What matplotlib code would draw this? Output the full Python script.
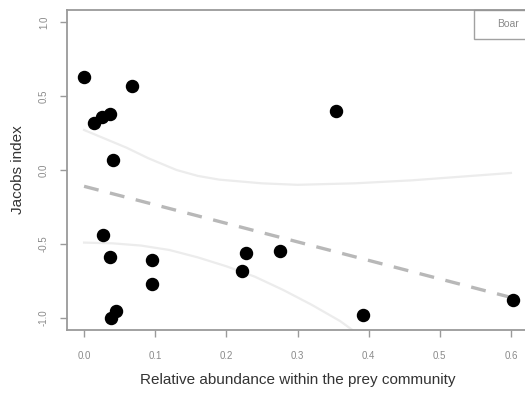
import matplotlib.pyplot as plt

# Jacobs index vs relative abundance (boar)
abund = [0.000, 0.014, 0.025, 0.037, 0.040, 0.067, 0.354, 0.027, 0.037, 0.095,
         0.095, 0.045, 0.038, 0.228, 0.222, 0.276, 0.392, 0.603]
jacobs = [0.63, 0.32, 0.36, 0.38, 0.07, 0.57, 0.40, -0.44, -0.59, -0.61,
          -0.77, -0.95, -1.00, -0.56, -0.68, -0.55, -0.98, -0.88]

# fitted line
fit_x = [0.0, 0.6]
fit_y = [-0.11, -0.86]

# confidence band
upper_x = [0.0, 0.03, 0.06, 0.09, 0.13, 0.16, 0.19, 0.25, 0.30, 0.38, 0.46, 0.53, 0.60]
upper_y = [0.27, 0.21, 0.15, 0.08, 0.0, -0.04, -0.065, -0.09, -0.10, -0.09, -0.07, -0.045, -0.02]
lower_x = [0.0, 0.04, 0.08, 0.12, 0.16, 0.20, 0.24, 0.28, 0.32, 0.36, 0.38]
lower_y = [-0.49, -0.495, -0.51, -0.54, -0.59, -0.65, -0.72, -0.81, -0.91, -1.02, -1.09]

plt.rcParams['font.family'] = ['Liberation Sans', 'DejaVu Sans']

fig = plt.figure(figsize=(5.25, 3.94), dpi=100)
ax = fig.add_axes([67 / 525, 64 / 394, 461 / 525, 320 / 394])

ax.plot(upper_x, upper_y, color='#ececec', linewidth=1.6, zorder=1)
ax.plot(lower_x, lower_y, color='#ececec', linewidth=1.6, zorder=1)
ax.plot(fit_x, fit_y, color='#b8b8b8', linewidth=2.4, dashes=(4.5, 3.5), zorder=2)
ax.scatter(abund, jacobs, s=75, color='black', zorder=3)

ax.set_xlim(-0.024, 0.624)
ax.set_ylim(-1.08, 1.08)
ax.set_xticks([0.0, 0.1, 0.2, 0.3, 0.4, 0.5, 0.6])
ax.set_xticklabels(['0.0', '0.1', '0.2', '0.3', '0.4', '0.5', '0.6'])
ax.set_yticks([-1.0, -0.5, 0.0, 0.5, 1.0])
ax.set_yticklabels(['-1.0', '-0.5', '0.0', '0.5', '1.0'], rotation=90, va='center')

for s in ax.spines.values():
    s.set_color('#9a9a9a')
    s.set_linewidth(1.3)
ax.tick_params(colors='#9a9a9a', labelcolor='#8a8a8a', labelsize=7, length=5, width=1)
ax.tick_params(axis='x', pad=10)
ax.tick_params(axis='y', pad=8)

ax.set_xlabel('Relative abundance within the prey community', fontsize=11, color='#333333', labelpad=9)
ax.set_ylabel('Jacobs index', fontsize=11, color='#333333', labelpad=10)

leg_handle, = ax.plot([], [], linestyle='none')
leg = ax.legend([leg_handle], ['Boar'], loc='upper right', borderaxespad=0,
                handlelength=0.9, handletextpad=0.4, fancybox=False, fontsize=7.5,
                labelcolor='#8a8a8a', borderpad=0.9)
leg.get_frame().set_edgecolor('#8a8a8a')
leg.get_frame().set_linewidth(1.0)

fig.savefig('out.png', dpi=100)
